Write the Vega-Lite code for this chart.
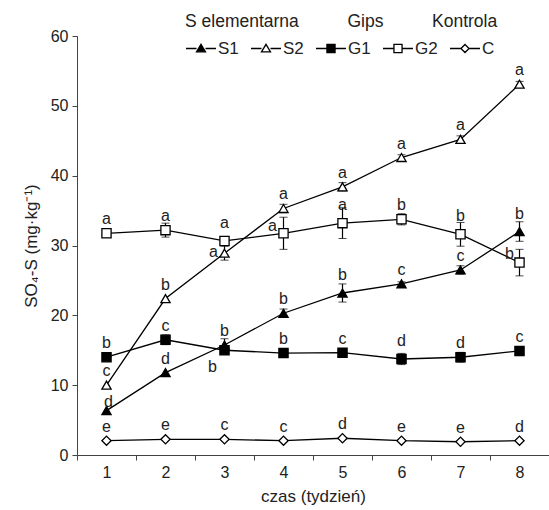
{
  "$schema": "https://vega.github.io/schema/vega-lite/v6.json",
  "width": 472,
  "height": 419,
  "autosize": "none",
  "padding": {"left": 77, "top": 36, "right": 0, "bottom": 55},
  "background": "white",
  "config": {
    "font": "Liberation Sans",
    "view": {"stroke": null},
    "axis": {
      "domainColor": "#444",
      "tickColor": "#444",
      "tickSize": 5,
      "labelColor": "#222",
      "labelFontSize": 16,
      "titleColor": "#222",
      "titleFontSize": 17,
      "titleFontWeight": "normal",
      "grid": false
    },
    "legend": {
      "labelFont": "Liberation Sans",
      "titleFont": "Liberation Sans"
    }
  },
  "data": {
    "values": [
      {"week": 1, "series": "S1", "value": 6.35, "err": 0, "letter": "d"},
      {"week": 2, "series": "S1", "value": 11.8, "err": 0, "letter": "d"},
      {"week": 3, "series": "S1", "value": 15.75, "err": 0.9, "letter": "b"},
      {"week": 4, "series": "S1", "value": 20.3, "err": 0.6, "letter": "b"},
      {"week": 5, "series": "S1", "value": 23.2, "err": 1.3, "letter": "b"},
      {"week": 6, "series": "S1", "value": 24.5, "err": 0.3, "letter": "c"},
      {"week": 7, "series": "S1", "value": 26.5, "err": 0.6, "letter": "c"},
      {"week": 8, "series": "S1", "value": 32.0, "err": 1.4, "letter": "b"},
      {"week": 1, "series": "S2", "value": 10.0, "err": 0, "letter": "c"},
      {"week": 2, "series": "S2", "value": 22.4, "err": 0, "letter": "b"},
      {"week": 3, "series": "S2", "value": 28.9, "err": 1.0, "letter": "a"},
      {"week": 4, "series": "S2", "value": 35.3, "err": 0.6, "letter": "a"},
      {"week": 5, "series": "S2", "value": 38.4, "err": 0.6, "letter": "a"},
      {"week": 6, "series": "S2", "value": 42.6, "err": 0.4, "letter": "a"},
      {"week": 7, "series": "S2", "value": 45.2, "err": 0.5, "letter": "a"},
      {"week": 8, "series": "S2", "value": 53.1, "err": 0.4, "letter": "a"},
      {"week": 1, "series": "G1", "value": 14.0, "err": 0.2, "letter": "b"},
      {"week": 2, "series": "G1", "value": 16.5, "err": 0.7, "letter": "c"},
      {"week": 3, "series": "G1", "value": 15.0, "err": 0.5, "letter": "b"},
      {"week": 4, "series": "G1", "value": 14.6, "err": 0.3, "letter": "b"},
      {"week": 5, "series": "G1", "value": 14.65, "err": 0.6, "letter": "c"},
      {"week": 6, "series": "G1", "value": 13.75, "err": 0.8, "letter": "d"},
      {"week": 7, "series": "G1", "value": 14.0, "err": 0.7, "letter": "d"},
      {"week": 8, "series": "G1", "value": 14.9, "err": 0.3, "letter": "c"},
      {"week": 1, "series": "G2", "value": 31.75, "err": 0.6, "letter": "a"},
      {"week": 2, "series": "G2", "value": 32.2, "err": 1.0, "letter": "a"},
      {"week": 3, "series": "G2", "value": 30.65, "err": 0.6, "letter": "a"},
      {"week": 4, "series": "G2", "value": 31.75, "err": 2.3, "letter": "a"},
      {"week": 5, "series": "G2", "value": 33.2, "err": 2.2, "letter": "a"},
      {"week": 6, "series": "G2", "value": 33.75, "err": 0.8, "letter": "b"},
      {"week": 7, "series": "G2", "value": 31.6, "err": 1.7, "letter": "b"},
      {"week": 8, "series": "G2", "value": 27.55, "err": 1.9, "letter": "b"},
      {"week": 1, "series": "C", "value": 2.05, "err": 0, "letter": "e"},
      {"week": 2, "series": "C", "value": 2.25, "err": 0, "letter": "e"},
      {"week": 3, "series": "C", "value": 2.25, "err": 0, "letter": "c"},
      {"week": 4, "series": "C", "value": 2.05, "err": 0, "letter": "c"},
      {"week": 5, "series": "C", "value": 2.4, "err": 0, "letter": "d"},
      {"week": 6, "series": "C", "value": 2.05, "err": 0, "letter": "e"},
      {"week": 7, "series": "C", "value": 1.9, "err": 0, "letter": "e"},
      {"week": 8, "series": "C", "value": 2.05, "err": 0, "letter": "d"}
    ]
  },
  "encoding": {
    "x": {
      "field": "week",
      "type": "ordinal",
      "scale": {"type": "band", "paddingInner": 0, "paddingOuter": 0},
      "axis": {"title": "czas (tydzień)", "labelAngle": 0, "tickBand": "extent", "labelPadding": 4, "titlePadding": 8}
    },
    "y": {
      "field": "value",
      "type": "quantitative",
      "scale": {"domain": [0, 60], "nice": false},
      "axis": {"title": "SO₄-S (mg·kg⁻¹)", "values": [0, 10, 20, 30, 40, 50, 60], "labelPadding": 4, "titlePadding": 10}
    }
  },
  "layer": [
    {
      "transform": [{"filter": "datum.err > 0"}],
      "mark": {"type": "errorbar", "ticks": {"size": 8, "color": "black"}, "rule": {"color": "black", "strokeWidth": 1.2}},
      "encoding": {"yError": {"field": "err"}}
    },
    {
      "mark": {"type": "line", "color": "black", "strokeWidth": 1.3},
      "encoding": {"detail": {"field": "series"}}
    },
    {
      "mark": {"type": "point", "filled": true, "stroke": "black", "strokeWidth": 1.3, "size": 85, "opacity": 1},
      "encoding": {
        "shape": {"field": "series", "type": "nominal", "scale": {"domain": ["S1", "S2", "G1", "G2", "C"], "range": ["triangle-up", "triangle-up", "square", "square", "diamond"]}, "legend": null},
        "fill": {"field": "series", "type": "nominal", "scale": {"domain": ["S1", "S2", "G1", "G2", "C"], "range": ["black", "white", "black", "white", "white"]}, "legend": null}
      }
    },
    {
      "transform": [{"filter": "!((datum.series=='S2'&&datum.week==3)||(datum.series=='G1'&&(datum.week==3||datum.week==6))||(datum.series=='G2'&&(datum.week==3||datum.week==4||datum.week==5||datum.week==7||datum.week==8))||(datum.series=='S1'&&(datum.week==1||datum.week==5||datum.week==8)))"}],
      "mark": {"type": "text", "dy": -14, "fontSize": 16, "color": "#222", "baseline": "middle"},
      "encoding": {"text": {"field": "letter"}}
    },
    {
      "transform": [{"filter": "(datum.series=='G1'&&datum.week==6)||(datum.series=='G2'&&(datum.week==3||datum.week==5||datum.week==7))||(datum.series=='S1'&&(datum.week==5||datum.week==8))"}],
      "mark": {"type": "text", "dy": -18, "fontSize": 16, "color": "#222", "baseline": "middle"},
      "encoding": {"text": {"field": "letter"}}
    },
    {
      "transform": [{"filter": "datum.series=='S1'&&datum.week==1"}],
      "mark": {"type": "text", "dy": -9, "dx": 2, "fontSize": 16, "color": "#222", "baseline": "middle"},
      "encoding": {"text": {"field": "letter"}}
    },
    {
      "transform": [{"filter": "datum.series=='S2'&&datum.week==3"}],
      "mark": {"type": "text", "dy": -1, "dx": -11, "fontSize": 16, "color": "#222", "baseline": "middle"},
      "encoding": {"text": {"field": "letter"}}
    },
    {
      "transform": [{"filter": "datum.series=='G1'&&datum.week==3"}],
      "mark": {"type": "text", "dy": 17, "dx": -12, "fontSize": 16, "color": "#222", "baseline": "middle"},
      "encoding": {"text": {"field": "letter"}}
    },
    {
      "transform": [{"filter": "datum.series=='G2'&&datum.week==4"}],
      "mark": {"type": "text", "dy": -7, "dx": -11, "fontSize": 16, "color": "#222", "baseline": "middle"},
      "encoding": {"text": {"field": "letter"}}
    },
    {
      "transform": [{"filter": "datum.series=='G2'&&datum.week==8"}],
      "mark": {"type": "text", "dy": -9, "dx": -10, "fontSize": 16, "color": "#222", "baseline": "middle"},
      "encoding": {"text": {"field": "letter"}}
    },
    {
      "transform": [{"filter": "false"}],
      "mark": {"type": "point", "filled": true, "stroke": "black", "strokeWidth": 1.3, "size": 900, "opacity": 1},
      "encoding": {
        "shape": {
          "field": "series", "type": "nominal",
          "scale": {"domain": ["S1", "S2", "G1", "G2", "C"], "range": [
            "M-1,0H-0.3M0.3,0H1M0,-0.28L0.3,0.22L-0.3,0.22Z",
            "M-1,0H-0.3M0.3,0H1M0,-0.28L0.3,0.22L-0.3,0.22Z",
            "M-1,0H-0.27M0.27,0H1M-0.27,-0.27H0.27V0.27H-0.27Z",
            "M-1,0H-0.27M0.27,0H1M-0.27,-0.27H0.27V0.27H-0.27Z",
            "M-1,0H-0.27M0.27,0H1M-0.27,0L0,-0.27L0.27,0L0,0.27Z"
          ]},
          "legend": {
            "orient": "none",
            "legendX": 108,
            "legendY": -23,
            "direction": "horizontal",
            "title": "S elementarna\u00a0\u00a0\u00a0\u00a0\u00a0\u00a0\u00a0\u00a0\u00a0\u00a0Gips\u00a0\u00a0\u00a0\u00a0\u00a0\u00a0\u00a0\u00a0\u00a0\u00a0Kontrola",
            "titleLimit": 1000,
            "titleFontSize": 17.5,
            "titleFontWeight": "normal",
            "titleColor": "#222",
            "titlePadding": 2,
            "labelFontSize": 17,
            "labelColor": "#222",
            "labelOffset": 1,
            "columnPadding": 9,
            "symbolSize": 900,
            "symbolStrokeColor": "black",
            "symbolStrokeWidth": 1.3,
            "encoding": {"symbols": {"stroke": {"value": "black"}, "strokeWidth": {"value": 1.3}}}
          }
        },
        "fill": {
          "field": "series", "type": "nominal",
          "scale": {"domain": ["S1", "S2", "G1", "G2", "C"], "range": ["black", "white", "black", "white", "white"]},
          "legend": {
            "orient": "none",
            "legendX": 108,
            "legendY": -23,
            "direction": "horizontal",
            "title": "S elementarna\u00a0\u00a0\u00a0\u00a0\u00a0\u00a0\u00a0\u00a0\u00a0\u00a0Gips\u00a0\u00a0\u00a0\u00a0\u00a0\u00a0\u00a0\u00a0\u00a0\u00a0Kontrola"
          }
        }
      }
    }
  ],
  "resolve": {"scale": {"shape": "independent", "fill": "independent"}, "legend": {"shape": "independent", "fill": "independent"}}
}
